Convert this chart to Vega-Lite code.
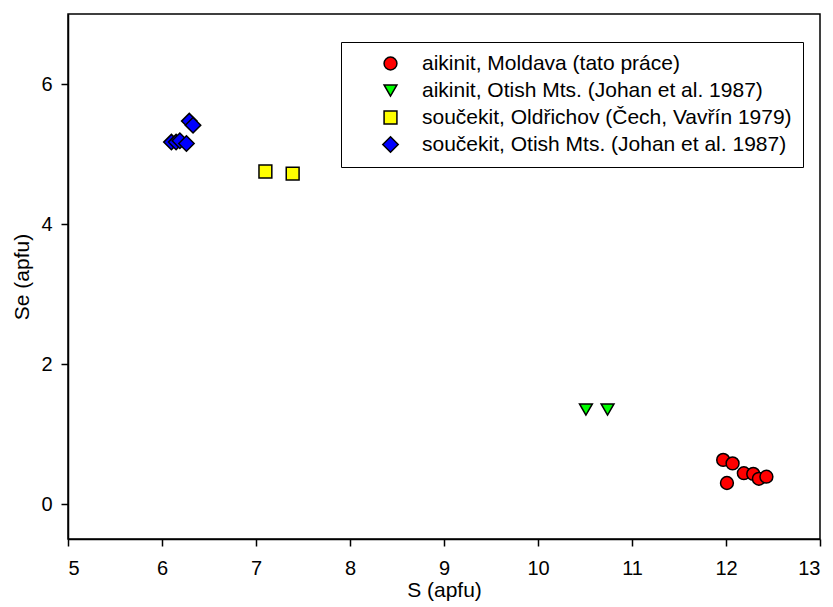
{
  "$schema": "https://vega.github.io/schema/vega-lite/v6.json",
  "width": 752,
  "height": 525,
  "autosize": "none",
  "padding": {"left": 68, "top": 14, "right": 13, "bottom": 68},
  "background": "white",
  "config": {
    "font": "Liberation Sans",
    "view": {"stroke": "black", "strokeWidth": 1.5},
    "axis": {
      "grid": false,
      "domainColor": "black",
      "domainWidth": 1.5,
      "tickColor": "black",
      "tickWidth": 1.5,
      "tickSize": 7,
      "labelFont": "Liberation Sans",
      "labelFontSize": 20,
      "labelColor": "black",
      "titleFont": "Liberation Sans",
      "titleFontSize": 21,
      "titleFontWeight": "normal",
      "titleColor": "black"
    }
  },
  "data": {
    "values": [
      {"series": "aikinit, Moldava (tato práce)", "S": 11.97, "Se": 0.63},
      {"series": "aikinit, Moldava (tato práce)", "S": 12.07, "Se": 0.58},
      {"series": "aikinit, Moldava (tato práce)", "S": 12.19, "Se": 0.44},
      {"series": "aikinit, Moldava (tato práce)", "S": 12.29, "Se": 0.43},
      {"series": "aikinit, Moldava (tato práce)", "S": 12.35, "Se": 0.36},
      {"series": "aikinit, Moldava (tato práce)", "S": 12.43, "Se": 0.39},
      {"series": "aikinit, Moldava (tato práce)", "S": 12.01, "Se": 0.30},
      {"series": "aikinit, Otish Mts. (Johan et al. 1987)", "S": 10.51, "Se": 1.35},
      {"series": "aikinit, Otish Mts. (Johan et al. 1987)", "S": 10.74, "Se": 1.35},
      {"series": "součekit, Oldřichov (Čech, Vavřín 1979)", "S": 7.10, "Se": 4.75},
      {"series": "součekit, Oldřichov (Čech, Vavřín 1979)", "S": 7.39, "Se": 4.72},
      {"series": "součekit, Otish Mts. (Johan et al. 1987)", "S": 6.10, "Se": 5.17},
      {"series": "součekit, Otish Mts. (Johan et al. 1987)", "S": 6.15, "Se": 5.17},
      {"series": "součekit, Otish Mts. (Johan et al. 1987)", "S": 6.19, "Se": 5.19},
      {"series": "součekit, Otish Mts. (Johan et al. 1987)", "S": 6.26, "Se": 5.15},
      {"series": "součekit, Otish Mts. (Johan et al. 1987)", "S": 6.29, "Se": 5.47},
      {"series": "součekit, Otish Mts. (Johan et al. 1987)", "S": 6.33, "Se": 5.41}
    ]
  },
  "mark": {"type": "point", "filled": true, "size": 165, "stroke": "black", "strokeWidth": 1.5, "opacity": 1},
  "encoding": {
    "x": {
      "field": "S",
      "type": "quantitative",
      "title": "S (apfu)",
      "scale": {"domain": [5, 13], "nice": false, "zero": false},
      "axis": {"values": [5, 6, 7, 8, 9, 10, 11, 12, 13], "labelPadding": 12, "titlePadding": 1}
    },
    "y": {
      "field": "Se",
      "type": "quantitative",
      "title": "Se (apfu)",
      "scale": {"domain": [-0.5, 7], "nice": false, "zero": false},
      "axis": {"values": [0, 2, 4, 6], "labelPadding": 9, "titlePadding": 8}
    },
    "color": {
      "field": "series",
      "type": "nominal",
      "scale": {
        "domain": [
          "aikinit, Moldava (tato práce)",
          "aikinit, Otish Mts. (Johan et al. 1987)",
          "součekit, Oldřichov (Čech, Vavřín 1979)",
          "součekit, Otish Mts. (Johan et al. 1987)"
        ],
        "range": ["#ff0000", "#00ff00", "#ffff00", "#0000ff"]
      },
      "legend": {
        "title": null,
        "orient": "none",
        "legendX": 273,
        "legendY": 28,
        "padding": 11,
        "strokeColor": "black",
        "fillColor": "white",
        "labelFont": "Liberation Sans",
        "labelFontSize": 21,
        "labelColor": "black",
        "labelLimit": 600,
        "labelOffset": 21,
        "symbolOffset": 28,
        "symbolSize": 165,
        "symbolStrokeColor": "black",
        "symbolStrokeWidth": 1.5,
        "rowPadding": 5
      }
    },
    "shape": {
      "field": "series",
      "type": "nominal",
      "scale": {
        "domain": [
          "aikinit, Moldava (tato práce)",
          "aikinit, Otish Mts. (Johan et al. 1987)",
          "součekit, Oldřichov (Čech, Vavřín 1979)",
          "součekit, Otish Mts. (Johan et al. 1987)"
        ],
        "range": ["circle", "triangle-down", "square", "M-1.2,0L0,-1.2L1.2,0L0,1.2Z"]
      }
    }
  }
}
